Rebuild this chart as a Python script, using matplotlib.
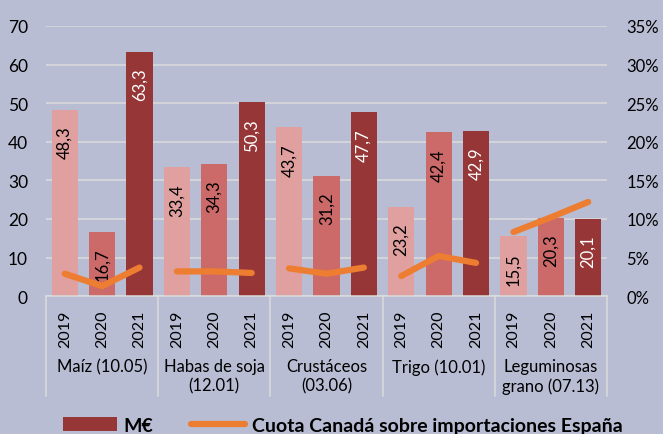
import matplotlib.pyplot as plt
from matplotlib.patches import Patch
from matplotlib.lines import Line2D
from matplotlib.transforms import blended_transform_factory

plt.rcParams['font.family'] = ['Lato', 'DejaVu Sans']

# Datos
grupos = ['Maíz (10.05)', 'Habas de soja\n(12.01)', 'Crustáceos\n(03.06)',
          'Trigo (10.01)', 'Leguminosas\ngrano (07.13)']
anios = ['2019', '2020', '2021']
millones = [[48.3, 16.7, 63.3],
            [33.4, 34.3, 50.3],
            [43.7, 31.2, 47.7],
            [23.2, 42.4, 42.9],
            [15.5, 20.3, 20.1]]
cuota = [[2.9, 1.3, 3.7],
         [3.2, 3.2, 3.0],
         [3.6, 2.9, 3.7],
         [2.6, 5.2, 4.3],
         [8.3, 10.2, 12.2]]

fondo = '#B8BDD3'
colores = ['#E0A0A0', '#CC6A6A', '#963636']
col_texto = ['black', 'black', 'white']
naranja = '#ED7D31'
rejilla = '#DCDCDC'

fig = plt.figure(figsize=(6.63, 4.35), dpi=100, facecolor=fondo)
ax = fig.add_axes([0.0694, 0.317, 0.846, 0.621])
ax.set_facecolor(fondo)

for g, vals in enumerate(millones):
    for i, v in enumerate(vals):
        x = g * 3 + i
        ax.bar(x, v, width=0.7, color=colores[i], zorder=2)
        ax.annotate(f'{v:.1f}'.replace('.', ','), (x, v), xytext=(0, -11.5),
                    textcoords='offset points', rotation=90, ha='center',
                    va='top', fontsize=12, color=col_texto[i], zorder=3)

ax.set_xlim(-0.5, 14.5)
ax.set_ylim(0, 70)
ax.set_yticks(range(0, 71, 10))
ax.yaxis.grid(True, color=rejilla, linewidth=1.1, zorder=0)
ax.set_axisbelow(True)
ax.set_xticks(range(15))
ax.set_xticklabels(anios * 5, rotation=90, fontsize=11.5)
ax.tick_params(axis='x', length=0, pad=10)
ax.tick_params(axis='y', length=0, pad=13, labelsize=12.5)
for s in ['top', 'left', 'right']:
    ax.spines[s].set_visible(False)
ax.spines['bottom'].set_color(rejilla)
ax.spines['bottom'].set_linewidth(1.1)

# Eje secundario
ax2 = ax.twinx()
for g, vals in enumerate(cuota):
    ax2.plot([g * 3, g * 3 + 1, g * 3 + 2], vals, color=naranja, linewidth=4.5,
             solid_capstyle='round', zorder=4)
ax2.set_ylim(0, 35)
ax2.set_yticks(range(0, 36, 5))
ax2.set_yticklabels([f'{t}%' for t in range(0, 36, 5)])
ax2.tick_params(axis='y', length=0, pad=14, labelsize=12)
for s in ax2.spines.values():
    s.set_visible(False)

# Separadores y etiquetas de grupo
tr = blended_transform_factory(ax.transData, ax.transAxes)
for xs in [-0.5, 2.5, 5.5, 8.5, 11.5, 14.5]:
    ax.add_line(Line2D([xs, xs], [0, -0.37], transform=tr, color=rejilla,
                       linewidth=1.1, clip_on=False))
for g, nombre in enumerate(grupos):
    ax.text(g * 3 + 1, -0.23, nombre, transform=tr, ha='center', va='top',
            fontsize=12, linespacing=1.25)

# Leyenda
handles = [Patch(facecolor=colores[2]),
           Line2D([0], [0], color=naranja, linewidth=4.5, solid_capstyle='round')]
fig.legend(handles, ['M€', 'Cuota Canadá sobre importaciones España'],
           loc='lower left', bbox_to_anchor=(0.068, -0.04), ncol=2, frameon=False,
           prop={'weight': 'bold', 'size': 14}, handlelength=2.8,
           handletextpad=0.35, columnspacing=1.9)

fig.savefig('out.png', dpi=100, facecolor=fondo)
